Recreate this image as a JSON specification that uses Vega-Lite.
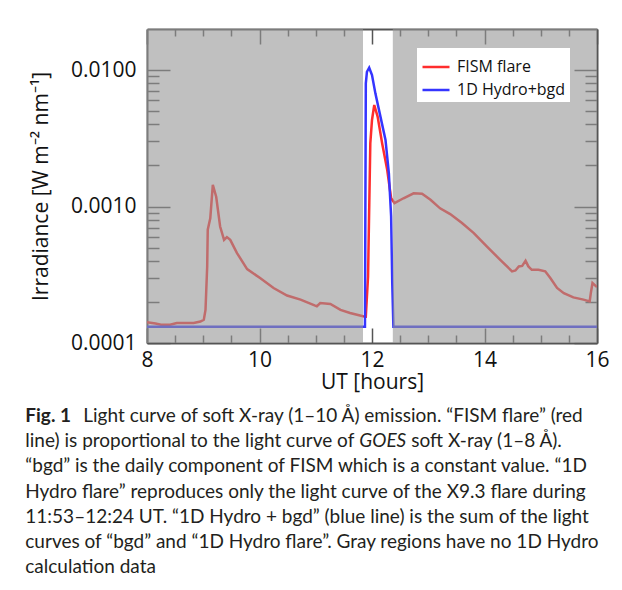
{
  "$schema": "https://vega.github.io/schema/vega-lite/v6.json",
  "padding": {"left": 25, "top": 28, "right": 5, "bottom": 5},
  "background": "white",
  "config": {
    "view": {"stroke": null},
    "font": "Open Sans",
    "axis": {"grid": false, "domain": false, "tickColor": "#555555", "tickWidth": 1.5, "domainColor": "#555555", "domainWidth": 2, "zindex": 1, "labelFont": "Open Sans", "titleFont": "Open Sans", "labelColor": "#111111", "titleColor": "#111111", "labelFontSize": 21, "titleFontSize": 21, "titleFontWeight": "normal", "labelFlush": false}
  },
  "datasets": {
    "curves": [
      {"series": "FISM flare", "t": 8.0, "v": 0.000142},
      {"series": "FISM flare", "t": 8.15, "v": 0.000139},
      {"series": "FISM flare", "t": 8.25, "v": 0.000136},
      {"series": "FISM flare", "t": 8.41, "v": 0.000136},
      {"series": "FISM flare", "t": 8.53, "v": 0.00014},
      {"series": "FISM flare", "t": 8.83, "v": 0.00014},
      {"series": "FISM flare", "t": 8.95, "v": 0.0001435},
      {"series": "FISM flare", "t": 9.01, "v": 0.000148},
      {"series": "FISM flare", "t": 9.04, "v": 0.000175},
      {"series": "FISM flare", "t": 9.07, "v": 0.000364},
      {"series": "FISM flare", "t": 9.08, "v": 0.000676},
      {"series": "FISM flare", "t": 9.125, "v": 0.00082},
      {"series": "FISM flare", "t": 9.17, "v": 0.00144},
      {"series": "FISM flare", "t": 9.23, "v": 0.00118},
      {"series": "FISM flare", "t": 9.3, "v": 0.000714},
      {"series": "FISM flare", "t": 9.37, "v": 0.00057},
      {"series": "FISM flare", "t": 9.42, "v": 0.000597},
      {"series": "FISM flare", "t": 9.48, "v": 0.00057},
      {"series": "FISM flare", "t": 9.6, "v": 0.000456},
      {"series": "FISM flare", "t": 9.78, "v": 0.000348},
      {"series": "FISM flare", "t": 10.01, "v": 0.000299},
      {"series": "FISM flare", "t": 10.25, "v": 0.000253},
      {"series": "FISM flare", "t": 10.49, "v": 0.000223},
      {"series": "FISM flare", "t": 10.73, "v": 0.000208},
      {"series": "FISM flare", "t": 10.99, "v": 0.000188},
      {"series": "FISM flare", "t": 11.02, "v": 0.000186},
      {"series": "FISM flare", "t": 11.08, "v": 0.000196},
      {"series": "FISM flare", "t": 11.26, "v": 0.000193},
      {"series": "FISM flare", "t": 11.44, "v": 0.000175},
      {"series": "FISM flare", "t": 11.61, "v": 0.000166},
      {"series": "FISM flare", "t": 11.84, "v": 0.000157},
      {"series": "FISM flare", "t": 11.89, "v": 0.000156},
      {"series": "FISM flare", "t": 11.93, "v": 0.000308},
      {"series": "FISM flare", "t": 11.97, "v": 0.00291},
      {"series": "FISM flare", "t": 12.0, "v": 0.00431},
      {"series": "FISM flare", "t": 12.04, "v": 0.00555},
      {"series": "FISM flare", "t": 12.1, "v": 0.00456},
      {"series": "FISM flare", "t": 12.18, "v": 0.00291},
      {"series": "FISM flare", "t": 12.27, "v": 0.00186},
      {"series": "FISM flare", "t": 12.34, "v": 0.00115},
      {"series": "FISM flare", "t": 12.4, "v": 0.00106},
      {"series": "FISM flare", "t": 12.56, "v": 0.00115},
      {"series": "FISM flare", "t": 12.74, "v": 0.00125},
      {"series": "FISM flare", "t": 12.89, "v": 0.00124},
      {"series": "FISM flare", "t": 13.04, "v": 0.00112},
      {"series": "FISM flare", "t": 13.21, "v": 0.00097},
      {"series": "FISM flare", "t": 13.39, "v": 0.00088},
      {"series": "FISM flare", "t": 13.6, "v": 0.000757},
      {"series": "FISM flare", "t": 13.81, "v": 0.000639},
      {"series": "FISM flare", "t": 14.04, "v": 0.00051},
      {"series": "FISM flare", "t": 14.28, "v": 0.000407},
      {"series": "FISM flare", "t": 14.49, "v": 0.000335},
      {"series": "FISM flare", "t": 14.55, "v": 0.00034},
      {"series": "FISM flare", "t": 14.61, "v": 0.000364},
      {"series": "FISM flare", "t": 14.67, "v": 0.000367},
      {"series": "FISM flare", "t": 14.73, "v": 0.0004},
      {"series": "FISM flare", "t": 14.78, "v": 0.000364},
      {"series": "FISM flare", "t": 14.84, "v": 0.000344},
      {"series": "FISM flare", "t": 14.96, "v": 0.000344},
      {"series": "FISM flare", "t": 15.08, "v": 0.000335},
      {"series": "FISM flare", "t": 15.17, "v": 0.000299},
      {"series": "FISM flare", "t": 15.29, "v": 0.000253},
      {"series": "FISM flare", "t": 15.41, "v": 0.000232},
      {"series": "FISM flare", "t": 15.58, "v": 0.000216},
      {"series": "FISM flare", "t": 15.76, "v": 0.000208},
      {"series": "FISM flare", "t": 15.87, "v": 0.000202},
      {"series": "FISM flare", "t": 15.89, "v": 0.000232},
      {"series": "FISM flare", "t": 15.92, "v": 0.000275},
      {"series": "FISM flare", "t": 16.0, "v": 0.000257},
      {"series": "1D Hydro+bgd", "t": 8.0, "v": 0.0001318},
      {"series": "1D Hydro+bgd", "t": 11.875, "v": 0.0001318},
      {"series": "1D Hydro+bgd", "t": 11.89, "v": 0.00799},
      {"series": "1D Hydro+bgd", "t": 11.91, "v": 0.00972},
      {"series": "1D Hydro+bgd", "t": 11.95, "v": 0.0104},
      {"series": "1D Hydro+bgd", "t": 12.0, "v": 0.0092},
      {"series": "1D Hydro+bgd", "t": 12.06, "v": 0.00675},
      {"series": "1D Hydro+bgd", "t": 12.15, "v": 0.00456},
      {"series": "1D Hydro+bgd", "t": 12.24, "v": 0.00308},
      {"series": "1D Hydro+bgd", "t": 12.3, "v": 0.00175},
      {"series": "1D Hydro+bgd", "t": 12.34, "v": 0.000845},
      {"series": "1D Hydro+bgd", "t": 12.36, "v": 0.000275},
      {"series": "1D Hydro+bgd", "t": 12.38, "v": 0.0001318},
      {"series": "1D Hydro+bgd", "t": 16.0, "v": 0.0001318}
    ],
    "gray": [
      {"start": 8.0, "end": 11.84},
      {"start": 12.37, "end": 16.0}
    ],
    "caption": [
      {"line": 1, "part": "bold", "text": "Fig. 1"},
      {"line": 1, "part": "after", "text": "Light curve of soft X-ray (1–10 Å) emission. “FISM flare” (red"},
      {"line": 2, "part": "main", "text": "line) is proportional to the light curve of"},
      {"line": 2, "part": "italic", "text": "GOES"},
      {"line": 2, "part": "tail", "text": "soft X-ray (1–8 Å)."},
      {"line": 3, "part": "main", "text": "“bgd” is the daily component of FISM which is a constant value. “1D"},
      {"line": 4, "part": "main", "text": "Hydro flare” reproduces only the light curve of the X9.3 flare during"},
      {"line": 5, "part": "main", "text": "11:53–12:24 UT. “1D Hydro + bgd” (blue line) is the sum of the light"},
      {"line": 6, "part": "main", "text": "curves of “bgd” and “1D Hydro flare”. Gray regions have no 1D Hydro"},
      {"line": 7, "part": "main", "text": "calculation data"}
    ]
  },
  "concat": [
    {
      "width": 450,
      "height": 314,
      "data": {"name": "curves"},
      "resolve": {"axis": {"x": "independent", "y": "independent"}},
      "layer": [
        {
          "mark": {"type": "line", "strokeWidth": 2.5, "clip": true},
          "encoding": {
            "x": {"field": "t", "type": "quantitative", "scale": {"domain": [8, 16], "nice": false, "zero": false},
              "axis": {"orient": "bottom", "values": [8, 10, 12, 14, 16], "tickSize": -15, "labelPadding": 21, "domain": true, "title": "UT [hours]", "titlePadding": 1}},
            "y": {"field": "v", "type": "quantitative", "scale": {"type": "log", "domain": [0.0001, 0.02], "nice": false},
              "axis": {"orient": "left", "values": [0.0001, 0.001, 0.01], "format": ".4f", "tickSize": -23, "labelPadding": 34, "domain": true, "title": "Irradiance [W m⁻² nm⁻¹]", "titlePadding": 19}},
            "color": {"field": "series", "type": "nominal",
              "scale": {"domain": ["FISM flare", "1D Hydro+bgd"], "range": ["#ff2d2d", "#3535ff"]},
              "legend": {"title": null, "orient": "none", "legendX": 270, "legendY": 19, "fillColor": "white", "padding": 4, "symbolType": "stroke", "symbolSize": 729, "symbolStrokeWidth": 2.5, "labelFont": "Open Sans", "labelFontSize": 16, "labelColor": "#111111", "labelOffset": 6, "rowPadding": -3, "zindex": 2}}
          }
        },
        {
          "data": {"name": "gray"},
          "mark": {"type": "rect", "color": "#969696", "opacity": 0.6},
          "encoding": {
            "x": {"field": "start", "type": "quantitative",
              "axis": {"orient": "top", "values": [8, 10, 12, 14, 16], "tickSize": -15, "labels": false, "domain": true, "title": null}},
            "x2": {"field": "end"}
          }
        },
        {
          "mark": {"type": "line", "strokeOpacity": 0},
          "encoding": {
            "x": {"field": "t", "type": "quantitative",
              "axis": {"orient": "bottom", "values": [8.5, 9, 9.5, 10.5, 11, 11.5, 12.5, 13, 13.5, 14.5, 15, 15.5], "tickSize": -8, "labels": false, "title": null}},
            "y": {"field": "v", "type": "quantitative",
              "axis": {"orient": "right", "values": [0.0001, 0.001, 0.01], "tickSize": -23, "labels": false, "domain": true, "title": null}},
            "detail": {"field": "series"}
          }
        },
        {
          "mark": {"type": "line", "strokeOpacity": 0},
          "encoding": {
            "x": {"field": "t", "type": "quantitative",
              "axis": {"orient": "top", "values": [8.5, 9, 9.5, 10.5, 11, 11.5, 12.5, 13, 13.5, 14.5, 15, 15.5], "tickSize": -7, "labels": false, "title": null}},
            "y": {"field": "v", "type": "quantitative",
              "axis": {"orient": "left", "values": [0.0002, 0.0003, 0.0004, 0.0005, 0.0006, 0.0007, 0.0008, 0.0009, 0.002, 0.003, 0.004, 0.005, 0.006, 0.007, 0.008, 0.009], "tickSize": -12, "labels": false, "title": null}},
            "detail": {"field": "series"}
          }
        },
        {
          "mark": {"type": "line", "strokeOpacity": 0},
          "encoding": {
            "x": {"field": "t", "type": "quantitative", "axis": null},
            "y": {"field": "v", "type": "quantitative",
              "axis": {"orient": "right", "values": [0.0002, 0.0003, 0.0004, 0.0005, 0.0006, 0.0007, 0.0008, 0.0009, 0.002, 0.003, 0.004, 0.005, 0.006, 0.007, 0.008, 0.009], "tickSize": -12, "labels": false, "title": null}},
            "detail": {"field": "series"}
          }
        }
      ]
    },
    {
      "width": 440,
      "height": 177,
      "data": {"name": "caption"},
      "layer": [
        {
          "transform": [{"filter": "datum.part === 'main'"}],
          "mark": {"type": "text", "align": "left", "baseline": "middle", "font": "Lato", "fontSize": 19, "color": "#231f20", "dx": -121.7},
          "encoding": {
            "x": {"datum": 0, "type": "quantitative", "scale": {"domain": [0, 1]}, "axis": null},
            "y": {"field": "line", "type": "ordinal", "scale": {"type": "band", "paddingInner": 0, "paddingOuter": 0}, "axis": null},
            "text": {"field": "text"}
          }
        },
        {
          "transform": [{"filter": "datum.part === 'bold'"}],
          "mark": {"type": "text", "align": "left", "baseline": "middle", "font": "Lato", "fontWeight": "bold", "fontSize": 19, "color": "#231f20", "dx": -121.7},
          "encoding": {
            "x": {"datum": 0, "type": "quantitative", "scale": {"domain": [0, 1]}, "axis": null},
            "y": {"field": "line", "type": "ordinal", "axis": null},
            "text": {"field": "text"}
          }
        },
        {
          "transform": [{"filter": "datum.part === 'after'"}],
          "mark": {"type": "text", "align": "left", "baseline": "middle", "font": "Lato", "fontSize": 19, "color": "#231f20", "dx": -63.7},
          "encoding": {
            "x": {"datum": 0, "type": "quantitative", "scale": {"domain": [0, 1]}, "axis": null},
            "y": {"field": "line", "type": "ordinal", "axis": null},
            "text": {"field": "text"}
          }
        },
        {
          "transform": [{"filter": "datum.part === 'italic'"}],
          "mark": {"type": "text", "align": "left", "baseline": "middle", "font": "Lato", "fontStyle": "italic", "fontSize": 19, "color": "#231f20", "dx": 212.3},
          "encoding": {
            "x": {"datum": 0, "type": "quantitative", "scale": {"domain": [0, 1]}, "axis": null},
            "y": {"field": "line", "type": "ordinal", "axis": null},
            "text": {"field": "text"}
          }
        },
        {
          "transform": [{"filter": "datum.part === 'tail'"}],
          "mark": {"type": "text", "align": "left", "baseline": "middle", "font": "Lato", "fontSize": 19, "color": "#231f20", "dx": 264.3},
          "encoding": {
            "x": {"datum": 0, "type": "quantitative", "scale": {"domain": [0, 1]}, "axis": null},
            "y": {"field": "line", "type": "ordinal", "axis": null},
            "text": {"field": "text"}
          }
        }
      ]
    }
  ],
  "columns": 1,
  "spacing": 11
}
